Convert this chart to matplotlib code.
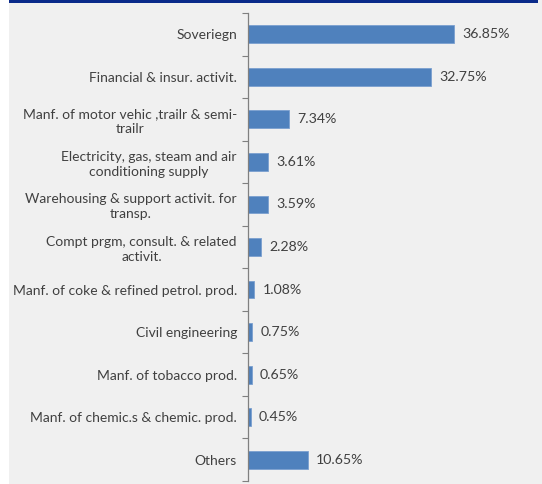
import numpy as np
import matplotlib.pyplot as plt
from matplotlib.patches import Rectangle

# sector exposures, top to bottom
sectors = ['Soveriegn',
           'Financial & insur. activit.',
           'Manf. of motor vehic ,trailr & semi-\ntrailr',
           'Electricity, gas, steam and air\nconditioning supply',
           'Warehousing & support activit. for\ntransp.',
           'Compt prgm, consult. & related\nactivit.',
           'Manf. of coke & refined petrol. prod.',
           'Civil engineering',
           'Manf. of tobacco prod.',
           'Manf. of chemic.s & chemic. prod.',
           'Others']
shares = [36.85, 32.75, 7.34, 3.61, 3.59, 2.28, 1.08, 0.75, 0.65, 0.45, 10.65]

W, H = 542, 484
bg = '#f0f0f0'
txt = '#404040'

plt.rcParams['font.family'] = ['Lato', 'DejaVu Sans']

fig = plt.figure(figsize=(W / 100, H / 100), dpi=100, facecolor='white')
# grey panel and dark blue rule on top
fig.patches.append(Rectangle((9 / W, 0), 1 - 9 / W, 1, transform=fig.transFigure,
                             facecolor=bg, edgecolor='none', zorder=-2))
fig.patches.append(Rectangle((9 / W, 1 - 2.5 / H), (538 - 9) / W, 2.5 / H,
                             transform=fig.transFigure, facecolor='#0a2a8a',
                             edgecolor='none', zorder=-1))

left, right = 248, 535
top, bottom = 13, 481
ax = fig.add_axes([left / W, 1 - bottom / H, (right - left) / W, (bottom - top) / H])
ax.set_facecolor('none')
ax.set_zorder(2)

y = np.arange(len(sectors))
ax.barh(y, shares, height=0.42, color='#4f81bd', edgecolor='#7aa0d0', linewidth=0.6)

px_per_unit = 206 / 36.85
ax.set_xlim(0, (right - left) / px_per_unit)
ax.set_ylim(len(sectors) - 0.5, -0.5)

for yi, v in zip(y, shares):
    ax.annotate('%.2f%%' % v, (v, yi), xytext=(6, 0), textcoords='offset points',
                va='center', ha='left', fontsize=10.2, color=txt)

ax.set_yticks(y)
ax.set_yticklabels(sectors, fontsize=10, color=txt, multialignment='center',
                   linespacing=1.3)
ax.tick_params(axis='y', which='major', length=0, pad=8)
ax.set_yticks(np.arange(-0.5, len(sectors)), minor=True)
ax.tick_params(axis='y', which='minor', length=4, width=0.8, color='#808080')
ax.set_xticks([])

for s in ['top', 'right', 'bottom']:
    ax.spines[s].set_visible(False)
ax.spines['left'].set_color('#808080')
ax.spines['left'].set_linewidth(0.9)

fig.savefig('out.png', dpi=100, facecolor=fig.get_facecolor())
